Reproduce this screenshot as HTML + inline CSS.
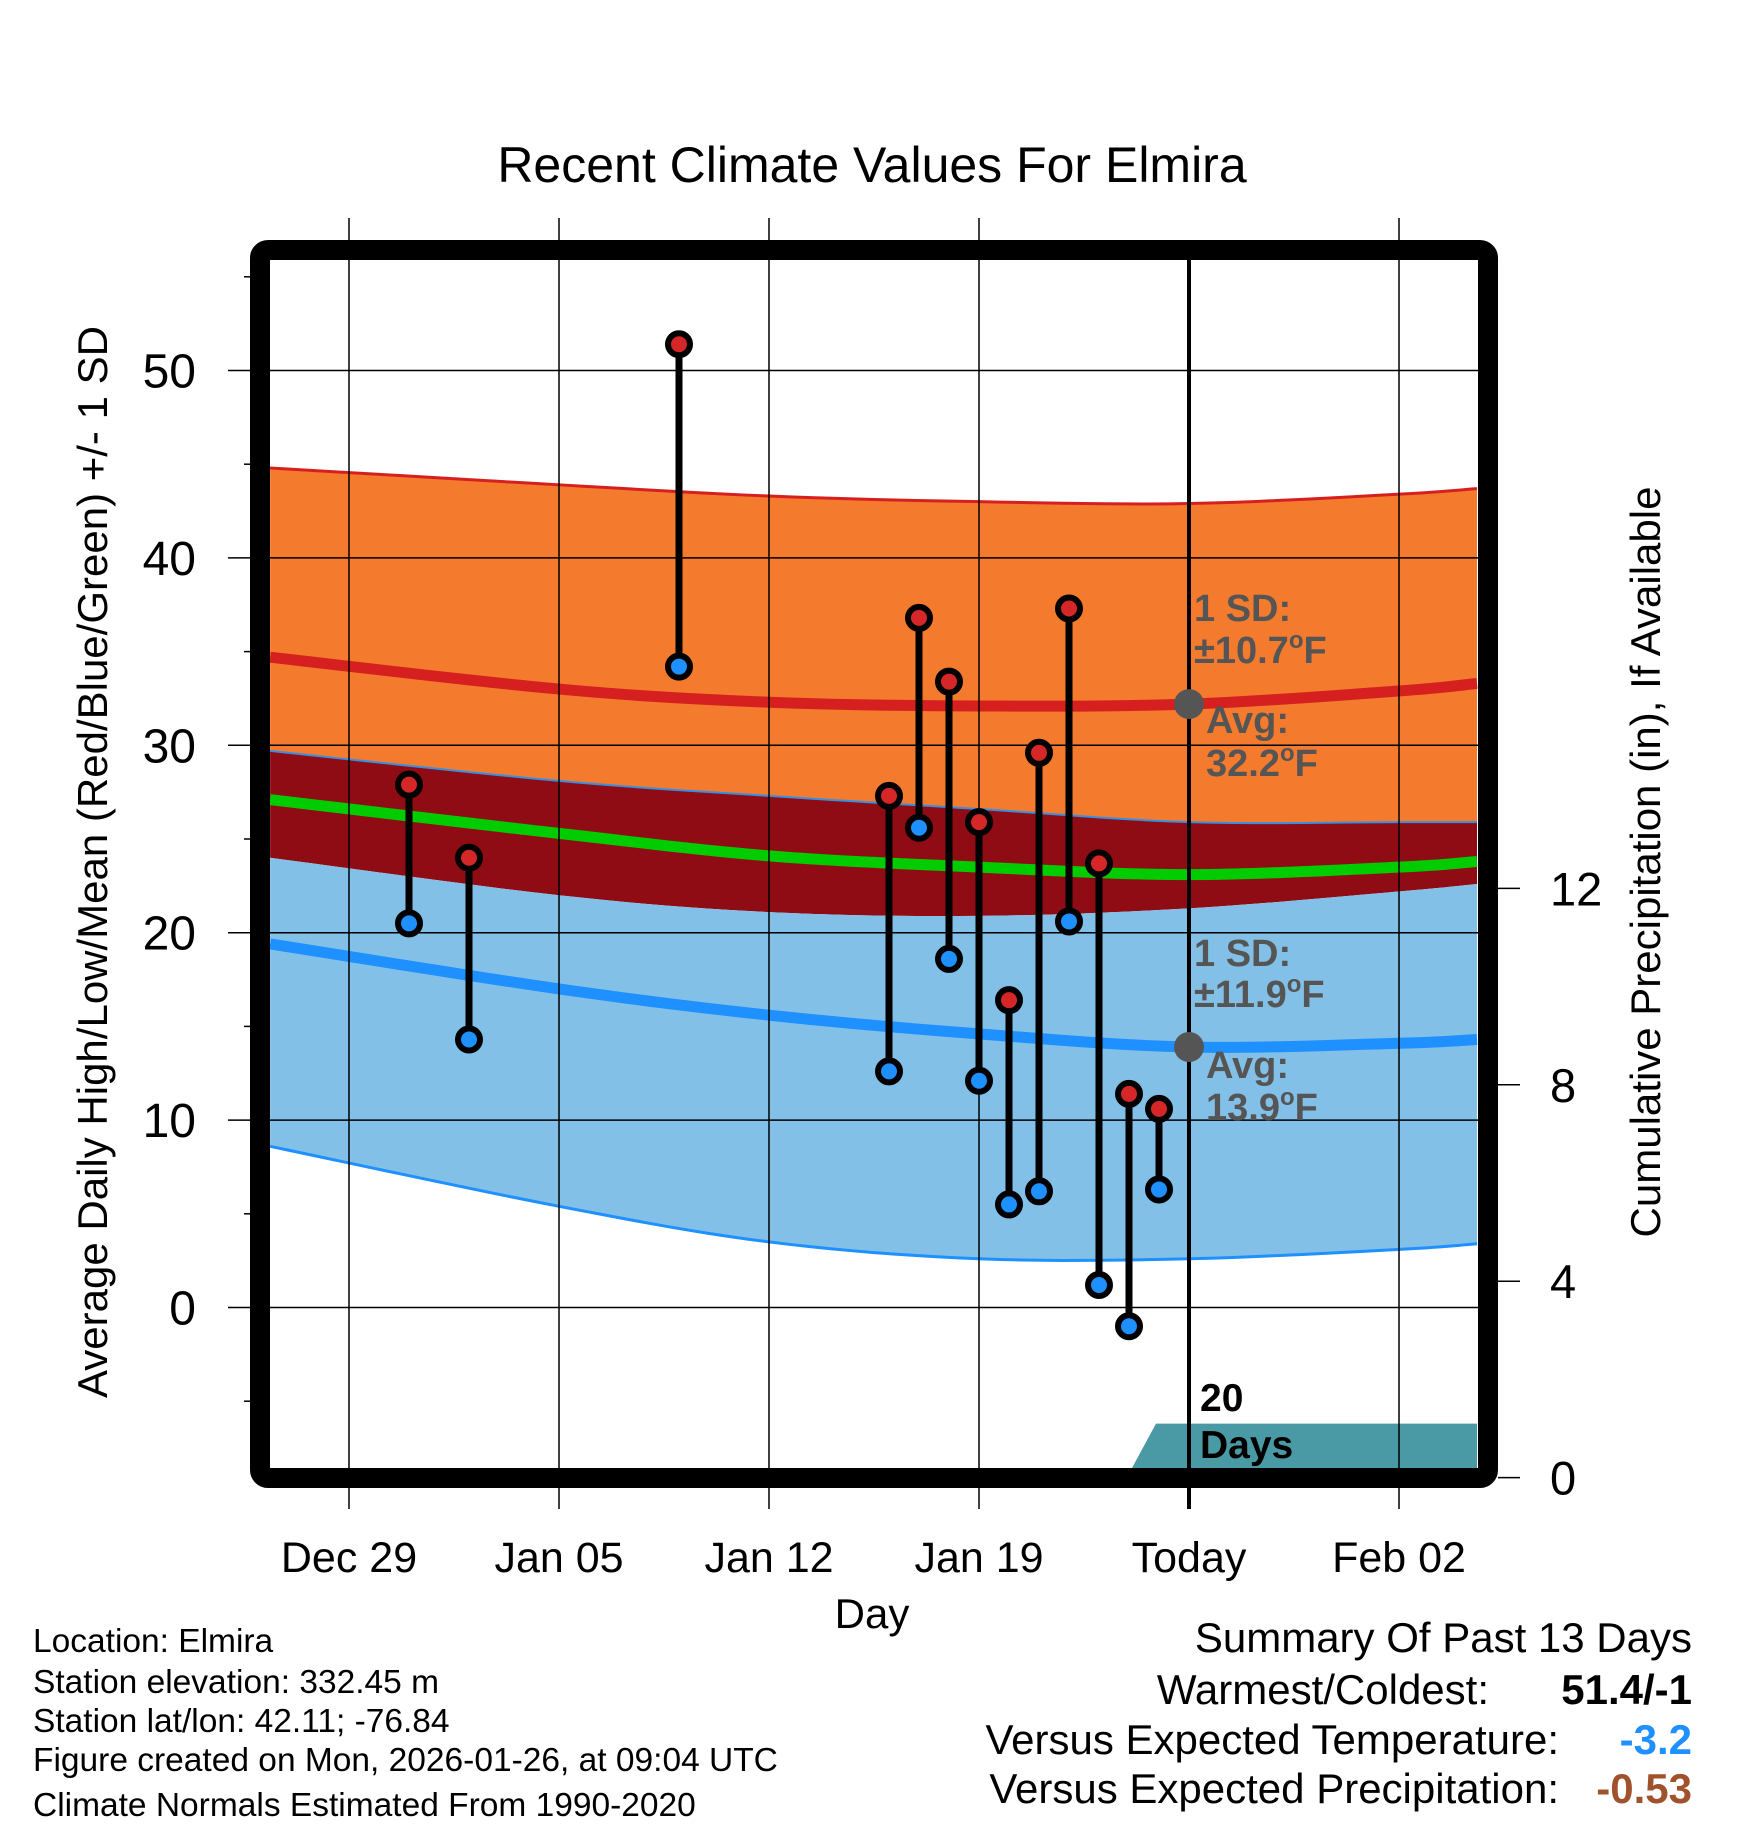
<!DOCTYPE html>
<html><head><meta charset="utf-8"><style>
html,body{margin:0;padding:0;background:#fff}
svg{display:block;font-family:"Liberation Sans",sans-serif}
</style></head><body>
<svg id="chart" width="1748" height="1828" viewBox="0 0 1748 1828" xmlns="http://www.w3.org/2000/svg">
<text x="872" y="182" text-anchor="middle" font-size="50">Recent Climate Values For Elmira</text>
<g id="bands"></g>
<g id="grid"></g>
<g id="marks"></g>
<g id="annot"></g>
<rect x="260" y="250" width="1228" height="1228" rx="8" fill="none" stroke="#000" stroke-width="20"/>
<text x="872" y="1628" text-anchor="middle" font-size="42">Day</text>
<text transform="translate(107,862) rotate(-90)" text-anchor="middle" font-size="42">Average Daily High/Low/Mean (Red/Blue/Green) +/- 1 SD</text>
<text transform="translate(1660,862) rotate(-90)" text-anchor="middle" font-size="42">Cumulative Precipitation (in), If Available</text>
<g font-size="33.5">
<text x="33" y="1652">Location: Elmira</text>
<text x="33" y="1693">Station elevation: 332.45 m</text>
<text x="33" y="1732">Station lat/lon: 42.11; -76.84</text>
<text x="33" y="1771">Figure created on Mon, 2026-01-26, at 09:04 UTC</text>
<text x="33" y="1816">Climate Normals Estimated From 1990-2020</text>
</g>
<g font-size="42">
<text x="1692" y="1652" text-anchor="end">Summary Of Past 13 Days</text>
<text x="1489" y="1704" text-anchor="end">Warmest/Coldest:</text>
<text x="1692" y="1704" text-anchor="end" font-weight="bold">51.4/-1</text>
<text x="1559" y="1754" text-anchor="end">Versus Expected Temperature:</text>
<text x="1692" y="1754" text-anchor="end" font-weight="bold" fill="#1e90ff">-3.2</text>
<text x="1559" y="1803" text-anchor="end">Versus Expected Precipitation:</text>
<text x="1692" y="1803" text-anchor="end" font-weight="bold" fill="#a0522d">-0.53</text>
</g>
</svg>
<script>
const normDays=[-2.63,7,14,21,28,35,37.6];
const hiUpper=[44.8,43.9,43.3,43.0,42.9,43.4,43.7];
const hiNorm=[34.7,33.0,32.3,32.1,32.2,32.9,33.3];
const hiLower=[29.7,28.1,27.3,26.6,25.9,25.9,25.9];
const meanNorm=[27.1,25.3,24.1,23.5,23.1,23.5,23.8];
const loUpper=[24.0,22.0,21.1,20.9,21.3,22.2,22.6];
const loNorm=[19.4,17.0,15.6,14.6,13.9,14.1,14.3];
const loLower=[8.6,5.4,3.5,2.6,2.6,3.1,3.4];
const obsDays=[2,4,11,18,19,20,21,22,23,24,25,26,27];
const obsHigh=[27.9,24.0,51.4,27.3,36.8,33.4,25.9,16.4,29.6,37.3,23.7,11.4,10.6];
const obsLow=[20.5,14.3,34.2,12.6,25.6,18.6,12.1,5.5,6.2,20.6,1.2,-1.0,6.3];
const precipDays=[26.1,26.9,37.6];
const precipVals=[0,1.1,1.1];
const xTickDays=[0,7,14,21,28,35];
const xTickLabels=["Dec 29","Jan 05","Jan 12","Jan 19","Today","Feb 02"];
const yTicks=[0,10,20,30,40,50];
const y2Ticks=[0,4,8,12];
const todayDay=28;

const NS="http://www.w3.org/2000/svg";
const X=d=>349+30*d;
const Y=v=>1307.5-18.74*v;
const Y2=p=>1477.6-49.1*p;
const L=270,R=1478,T=260,B=1468;
function mk(tag,attrs,parent){const e=document.createElementNS(NS,tag);for(const k in attrs)e.setAttribute(k,attrs[k]);parent.appendChild(e);return e;}
function smooth(xs,ys){
 const pts=[];for(let i=0;i<xs.length-1;i++){const p0=i>0?i-1:i,p3=i+2<xs.length?i+2:i+1;for(let t=0;t<1;t+=0.1){const t2=t*t,t3=t2*t;const f=(a,b,c,d)=>0.5*((2*b)+(-a+c)*t+(2*a-5*b+4*c-d)*t2+(-a+3*b-3*c+d)*t3);pts.push([f(xs[p0],xs[i],xs[i+1],xs[p3]),f(ys[p0],ys[i],ys[i+1],ys[p3])]);}}
 pts.push([xs[xs.length-1],ys[ys.length-1]]);return pts;}
const nx=normDays.map(X);
function curve(arr){return smooth(nx,arr.map(Y));}
function band(up,lo){const a=curve(up),b=curve(lo).reverse();return a.concat(b).map(p=>p.join(',')).join(' ');}
function line(arr){return curve(arr).map(p=>p.join(',')).join(' ');}
const bands=document.getElementById('bands');
let e;
e=mk('polygon',{points:band(hiUpper,hiLower),fill:'#f47b2e'},bands);


e=mk('polygon',{points:band(hiLower,loUpper),fill:'#900c14'},bands);


e=mk('polygon',{points:band(loUpper,loLower),fill:'#82c0e8'},bands);


e=mk('polyline',{points:line(hiUpper),fill:'none',stroke:'#d62020','stroke-width':3},bands);


e=mk('polyline',{points:line(hiLower),fill:'none',stroke:'#3a8ee0','stroke-width':2},bands);


e=mk('polyline',{points:line(loLower),fill:'none',stroke:'#1e90ff','stroke-width':3},bands);


e=mk('polyline',{points:line(hiNorm),fill:'none',stroke:'#d62020','stroke-width':11},bands);


e=mk('polyline',{points:line(meanNorm),fill:'none',stroke:'#00cc00','stroke-width':11},bands);


e=mk('polyline',{points:line(loNorm),fill:'none',stroke:'#1e90ff','stroke-width':11},bands);


const pp=[[X(precipDays[0]),B]];precipDays.forEach((d,i)=>pp.push([X(d),Math.min(B,Y2(precipVals[i]))]));pp.push([Math.min(R,X(precipDays[precipDays.length-1])),B]);
e=mk('polygon',{points:pp.map(p=>p.join(',')).join(' '),fill:'#4a9aa5'},bands);


const grid=document.getElementById('grid');
yTicks.forEach(v=>{e=mk('line',{x1:228,x2:R,y1:Y(v),y2:Y(v),stroke:'#000','stroke-width':1.5},grid);


e=mk('text',{x:196,y:Y(v)+17,'text-anchor':'end','font-size':48},grid);e.textContent=v;

});
for(let v=-5;v<=55;v+=10){e=mk('line',{x1:244,x2:250,y1:Y(v),y2:Y(v),stroke:'#000','stroke-width':1.5},grid);

}
xTickDays.forEach((d,i)=>{const w=d===todayDay?0:1.5;if(w){e=mk('line',{x1:X(d),x2:X(d),y1:218,y2:1509,stroke:'#000','stroke-width':w},grid);

}
e=mk('text',{x:X(d),y:1572,'text-anchor':'middle','font-size':43},grid);e.textContent=xTickLabels[i];

});
y2Ticks.forEach(p=>{e=mk('line',{x1:1498,x2:1520,y1:Y2(p),y2:Y2(p),stroke:'#000','stroke-width':1.5},grid);


e=mk('text',{x:1550,y:Y2(p)+17,'font-size':47},grid);e.textContent=p;

});
e=mk('line',{x1:X(todayDay),x2:X(todayDay),y1:T,y2:1509,stroke:'#000','stroke-width':4},grid);


const marks=document.getElementById('marks');
obsDays.forEach((d,i)=>{const x=X(d);
e=mk('line',{x1:x,x2:x,y1:Y(obsHigh[i]),y2:Y(obsLow[i]),stroke:'#000','stroke-width':7},marks);


e=mk('circle',{cx:x,cy:Y(obsHigh[i]),r:11,fill:'#d62728',stroke:'#000','stroke-width':6},marks);


e=mk('circle',{cx:x,cy:Y(obsLow[i]),r:11,fill:'#1e90ff',stroke:'#000','stroke-width':6},marks);

});
const an=document.getElementById('annot');
[[hiNorm[4]],[loNorm[4]]].forEach(v=>{e=mk('circle',{cx:X(todayDay),cy:Y(v[0]),r:15,fill:'#555'},an);

});
an.insertAdjacentHTML('beforeend',`
<g font-size="38" font-weight="bold" fill="#555">
<text x="1194" y="621">1 SD:</text>
<text x="1194" y="663">±10.7<tspan font-size="24" dy="-15">o</tspan><tspan dy="15">F</tspan></text>
<text x="1206" y="733">Avg:</text>
<text x="1206" y="776">32.2<tspan font-size="24" dy="-15">o</tspan><tspan dy="15">F</tspan></text>
<text x="1194" y="966">1 SD:</text>
<text x="1194" y="1007">±11.9<tspan font-size="24" dy="-15">o</tspan><tspan dy="15">F</tspan></text>
<text x="1206" y="1078">Avg:</text>
<text x="1206" y="1120">13.9<tspan font-size="24" dy="-15">o</tspan><tspan dy="15">F</tspan></text>
</g>
<g font-size="39" font-weight="bold" fill="#000">
<text x="1200" y="1411">20</text><text x="1200" y="1458">Days</text></g>`);
</script>
</body></html>
